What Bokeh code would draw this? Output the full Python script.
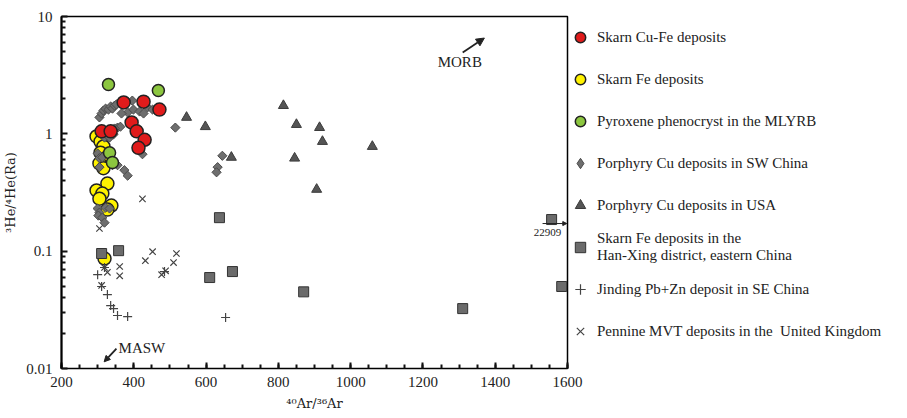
from bokeh.plotting import figure
from bokeh.models import (Legend, LegendItem, FixedTicker,
                          NumeralTickFormatter, Arrow, NormalHead, Label, Range1d)
from bokeh.embed import file_html
from bokeh.resources import INLINE

# ---------------- data (40Ar/36Ar , 3He/4He in Ra) ----------------
cufe_x = [311, 336, 372, 427, 471, 394, 408, 430, 413]
cufe_y = [1.05, 1.05, 1.85, 1.88, 1.61, 1.25, 1.05, 0.89, 0.76]

fe_x = [297, 308, 316, 308, 322, 305, 316, 327, 297, 313, 305, 338, 327, 319]
fe_y = [0.95, 0.86, 0.78, 0.69, 0.62, 0.56, 0.51, 0.377, 0.329, 0.31, 0.28, 0.245, 0.226, 0.0865]

pyx_x = [330, 468, 333, 341]
pyx_y = [2.63, 2.34, 0.69, 0.57]

swc_x = [305, 311, 316, 322, 330, 336, 341, 347, 352, 396, 383, 399, 416, 427, 438, 452, 366,
         355, 363, 347, 319, 333, 344, 300, 305, 313, 305, 341, 355, 374, 383, 424,
         300, 305, 302, 313, 319, 322, 333, 515, 645, 632, 629]
swc_y = [1.38, 1.49, 1.58, 1.64, 1.61, 1.71, 1.64, 1.74, 1.78, 1.92, 1.52, 1.61, 1.55, 1.49, 1.68, 1.61, 1.49,
         1.13, 1.15, 1.11, 0.93, 0.93, 0.99, 0.68, 0.62, 0.63, 0.52, 0.54, 0.54, 0.49, 0.44, 0.67,
         0.231, 0.213, 0.201, 0.193, 0.175, 0.235, 0.231, 1.13, 0.65, 0.52, 0.47]

usa_x = [546, 598, 670, 814, 850, 914, 922, 845, 906, 1060]
usa_y = [1.38, 1.15, 0.63, 1.74, 1.20, 1.13, 0.86, 0.62, 0.336, 0.78]

hx_x = [311, 358, 637, 610, 673, 870, 1310, 1556, 1584]
hx_y = [0.0955, 0.101, 0.193, 0.0596, 0.067, 0.045, 0.0324, 0.186, 0.050]

jd_x = [300, 311, 319, 327, 336, 344, 355, 383, 485, 654]
jd_y = [0.063, 0.050, 0.0726, 0.0427, 0.0344, 0.0324, 0.0283, 0.0277, 0.067, 0.0272]

pen_x = [305, 424, 319, 327, 361, 361, 432, 452, 477, 488, 510, 518, 311]
pen_y = [0.156, 0.279, 0.0726, 0.066, 0.074, 0.0617, 0.083, 0.099, 0.063, 0.068, 0.080, 0.0955, 0.051]

labels = ["Skarn Cu-Fe deposits",
          "Skarn Fe deposits",
          "Pyroxene phenocryst in the MLYRB",
          "Porphyry Cu deposits in SW China",
          "Porphyry Cu deposits in USA",
          "Skarn Fe deposits in the\nHan-Xing district, eastern China",
          "Jinding Pb+Zn deposit in SE China",
          "Pennine MVT deposits in the  United Kingdom"]

x_ticks = [200, 400, 600, 800, 1000, 1200, 1400, 1600]
y_ticks = [0.01, 0.1, 1, 10]

# annotation anchors (data coordinates)
morb_text = (1302, 4.13)
morb_arrow = (1310, 4.93, 1370, 6.55)
masw_text = (358, 0.0151)
masw_arrow = (352, 0.0148, 318, 0.0114)
off_text = (1545, 0.144)
off_arrow = (1531, 0.172, 1598, 0.172)

FONT = "Liberation Serif"
LABEL_FONT = "DejaVu Serif"

p = figure(frame_width=506, frame_height=352,
           x_range=Range1d(200, 1600), y_range=Range1d(0.01, 10),
           y_axis_type="log", output_backend="svg", toolbar_location=None,
           min_border_left=54, min_border_top=16, min_border_bottom=8, min_border_right=0)

p.xgrid.visible = False
p.ygrid.visible = False
p.outline_line_color = "black"
p.outline_line_width = 1.5

p.xaxis.ticker = FixedTicker(ticks=x_ticks, minor_ticks=list(range(200, 1601, 50)))
p.yaxis.ticker = FixedTicker(ticks=y_ticks,
                             minor_ticks=[m * 10.0 ** k for k in range(-2, 1) for m in range(2, 10)])
p.yaxis.formatter = NumeralTickFormatter(format="0.[00]")

# y axis: heavier axis line
p.yaxis.axis_line_width = 2
p.yaxis.axis_line_color = "black"

p.xaxis.major_tick_in = 6
p.yaxis.major_tick_in = 6
p.xaxis.major_tick_out = 0
p.yaxis.major_tick_out = 0
p.xaxis.minor_tick_in = 4
p.yaxis.minor_tick_in = 4
p.xaxis.minor_tick_out = 0
p.yaxis.minor_tick_out = 0
p.xaxis.major_tick_line_color = "#111111"
p.yaxis.major_tick_line_color = "#111111"
p.xaxis.minor_tick_line_color = "#111111"
p.yaxis.minor_tick_line_color = "#111111"
p.xaxis.major_tick_line_width = 2
p.yaxis.major_tick_line_width = 2
p.xaxis.minor_tick_line_width = 2
p.yaxis.minor_tick_line_width = 2

p.xaxis.major_label_text_font = FONT
p.yaxis.major_label_text_font = FONT
p.xaxis.major_label_text_font_size = "15px"
p.yaxis.major_label_text_font_size = "15px"
p.xaxis.major_label_text_color = "#222222"
p.yaxis.major_label_text_color = "#222222"
p.xaxis.axis_label_text_font = LABEL_FONT
p.yaxis.axis_label_text_font = LABEL_FONT
p.xaxis.axis_label_text_font_size = "13px"
p.yaxis.axis_label_text_font_size = "13px"
p.xaxis.axis_label_text_font_style = "normal"
p.yaxis.axis_label_text_font_style = "normal"
p.xaxis.axis_label_text_color = "#222222"
p.yaxis.axis_label_text_color = "#222222"

p.xaxis.axis_label = "⁴⁰Ar/³⁶Ar"
p.yaxis.axis_label = "³He/⁴He(Ra)"
p.xaxis.major_label_standoff = 8
p.xaxis.axis_label_standoff = 6
p.yaxis.major_label_standoff = 9
p.yaxis.axis_label_standoff = 5

# ---------------- glyphs ----------------
r_fe = p.scatter(fe_x, fe_y, marker="circle", size=13, fill_color="#fff200",
                 line_color="#222222", line_width=1.5)
# legend key for the SW China diamonds (inscribed in, and hidden by, the first plotted diamond)
r_swc_key = p.scatter(swc_x[:1], swc_y[:1], marker="diamond", size=8,
                      fill_color="#6e6e6e", line_color="#4a4a4a", line_width=1)
r_swc = p.scatter(swc_x, swc_y, marker="square", angle=0.785398, size=6.5,
                  fill_color="#6e6e6e", line_color="#4a4a4a", line_width=1)
r_usa = p.scatter(usa_x, usa_y, marker="triangle", size=10,
                  fill_color="#555555", line_color="#3a3a3a", line_width=1)
r_hx = p.scatter(hx_x, hx_y, marker="square", size=10,
                 fill_color="#6b6b6b", line_color="#333333", line_width=1)
r_jd = p.scatter(jd_x, jd_y, marker="cross", size=9, line_color="#444444", line_width=1.2)
r_pen = p.scatter(pen_x, pen_y, marker="x", size=9, line_color="#444444", line_width=1.2)
r_cufe = p.scatter(cufe_x, cufe_y, marker="circle", size=13, fill_color="#e01b1b",
                   line_color="#222222", line_width=1.5)
r_pyx = p.scatter(pyx_x, pyx_y, marker="circle", size=12, fill_color="#8cc63f",
                  line_color="#222222", line_width=1.5)

# ---------------- annotations ----------------
p.add_layout(Arrow(end=NormalHead(size=8, fill_color="#222222", line_color="#222222"),
                   x_start=morb_arrow[0], y_start=morb_arrow[1],
                   x_end=morb_arrow[2], y_end=morb_arrow[3],
                   line_width=1.8, line_color="#222222"))
p.add_layout(Label(x=morb_text[0], y=morb_text[1], text="MORB", text_align="center",
                   text_baseline="middle", text_font=FONT, text_font_size="15px",
                   text_color="#222222"))
p.add_layout(Arrow(end=NormalHead(size=6, fill_color="#222222", line_color="#222222"),
                   x_start=masw_arrow[0], y_start=masw_arrow[1],
                   x_end=masw_arrow[2], y_end=masw_arrow[3],
                   line_width=1.8, line_color="#222222"))
p.add_layout(Label(x=masw_text[0], y=masw_text[1], text="MASW", text_align="left",
                   text_baseline="middle", text_font=FONT, text_font_size="15px",
                   text_color="#222222"))
p.add_layout(Arrow(end=NormalHead(size=4, fill_color="#222222", line_color="#222222"),
                   x_start=off_arrow[0], y_start=off_arrow[1],
                   x_end=off_arrow[2], y_end=off_arrow[3],
                   line_width=1, line_color="#222222"))
p.add_layout(Label(x=off_text[0], y=off_text[1], text="22909", text_align="center",
                   text_baseline="middle", text_font=FONT, text_font_size="11px",
                   text_color="#222222"))

# ---------------- legend ----------------
renderers = [r_cufe, r_fe, r_pyx, r_swc_key, r_usa, r_hx, r_jd, r_pen]
legend = Legend(items=[LegendItem(label=l, renderers=[r]) for l, r in zip(labels, renderers)],
                location="top_left", margin=0, padding=3, spacing=0,
                label_height=42, glyph_height=42, glyph_width=26, label_standoff=4,
                label_text_font=FONT, label_text_font_size="15px", label_text_color="#222222",
                border_line_color=None, background_fill_alpha=0)
p.add_layout(legend, "right")

open("out.html", "w").write(file_html(p, INLINE))
